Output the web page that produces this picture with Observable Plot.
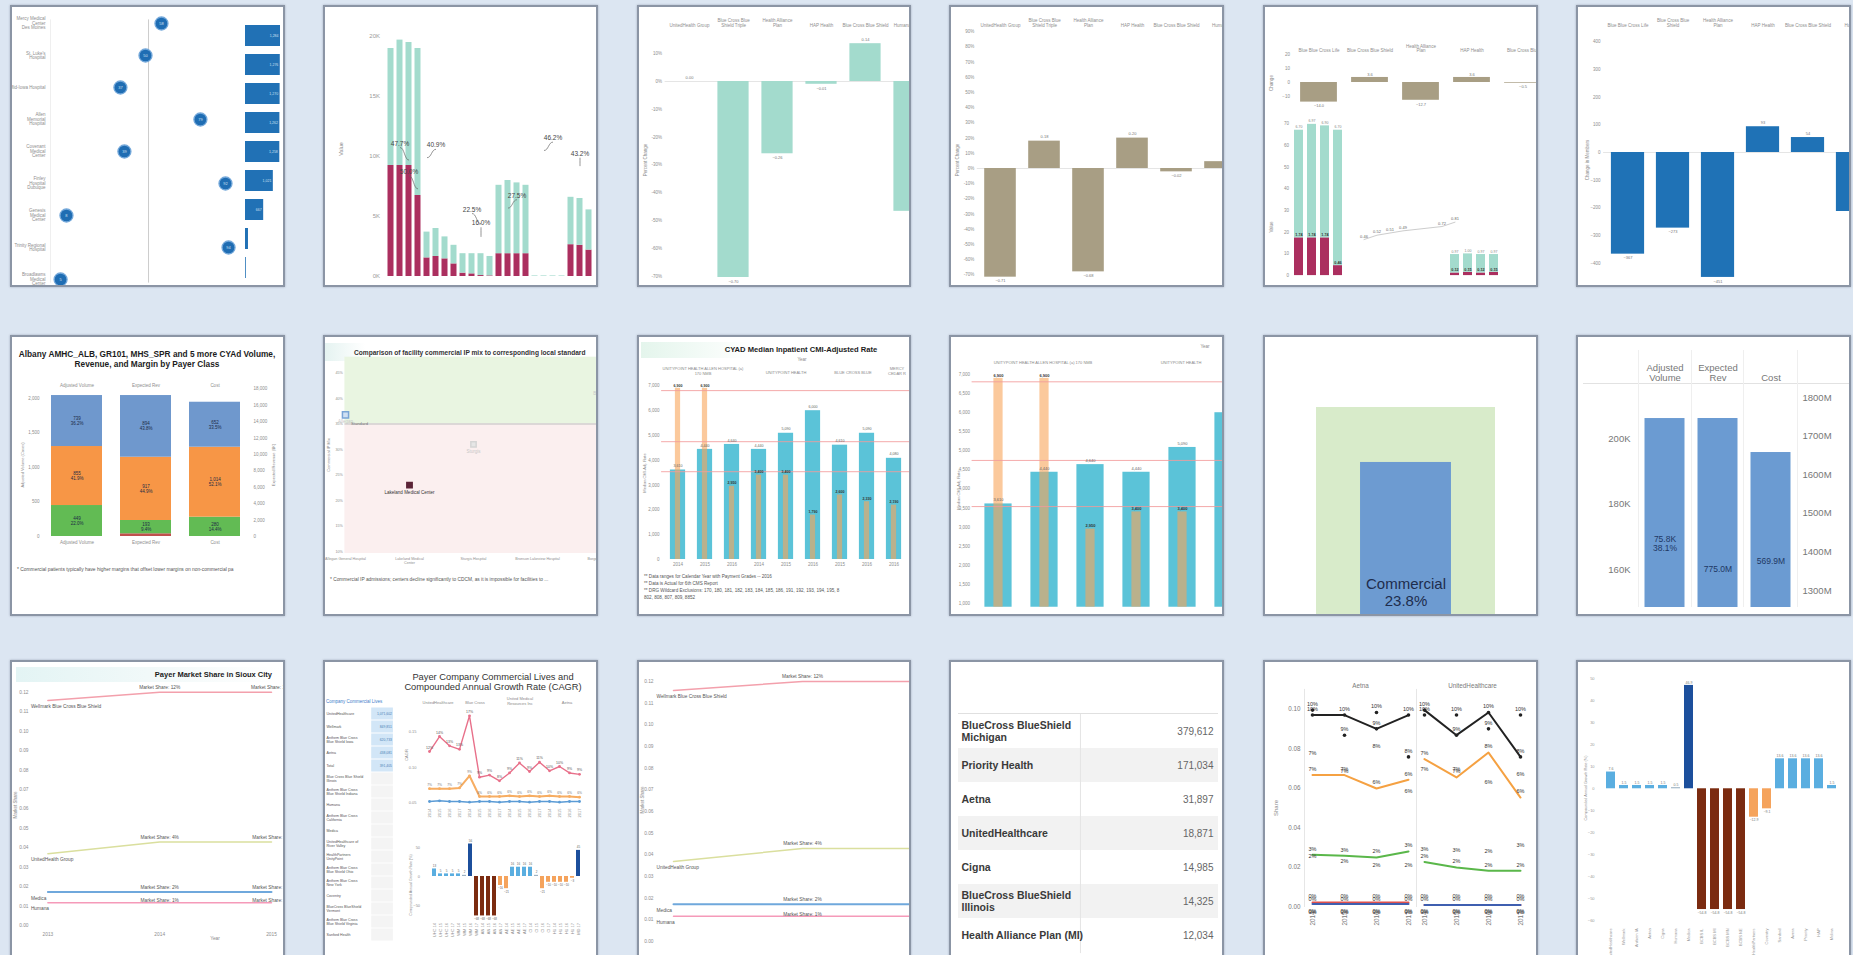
<!DOCTYPE html>
<html><head><meta charset="utf-8">
<script src="https://cdn.jsdelivr.net/npm/d3@7"></script>
<script src="https://cdn.jsdelivr.net/npm/@observablehq/plot@0.6"></script>
<style>
html,body{margin:0;padding:0}
body{width:1853px;height:955px;overflow:hidden;background:#dce6f2;font-family:"Liberation Sans",Arial,sans-serif;position:relative}
.panel{position:absolute;background:#fff;overflow:hidden;box-shadow:0 0 2px rgba(60,70,90,0.35)}
.edge{position:absolute;left:0;top:0;right:0;bottom:0;border:2px solid #8b95a5;box-sizing:border-box;pointer-events:none}
.t{position:absolute;white-space:pre;line-height:1.15}
.ln{position:absolute}
</style></head><body>
<script>
// ================= DATA =================
// Panel 1 – facility index dot plot + volume bars
const p1Hospitals = ["Mercy Medical\nCenter\nDes Moines","St. Luke's\nHospital","Mid-Iowa Hospital","Allen\nMemorial\nHospital","Covenant\nMedical\nCenter","Finley\nHospital\nDubuque","Genesis\nMedical\nCenter","Trinity Regional\nHospital","Broadlawns\nMedical\nCenter"];
const p1Index = [58.4, 50.0, 36.8, 78.9, 38.9, 92.1, 8.4, 93.7, 5.3];
const p1Benchmark = 51.6;
const p1Volume = [1284, 1276, 1270, 1262, 1258, 1021, 667, 109, 29];

// Panel 2 – stacked volume bars
const p2Groups = ["UnitedHealth","Wellmark","Aetna","Medica","Cigna","Humana"];
const p2Years = ["2014","2015","2016","2017"];
const p2Commercial = [9250,9250,9250,6750, 1550,1670,1470,1050, 280,220,80,50, 1900,1900,1900,1900, 0,0,0,0, 2650,2600,2200];
const p2Other = [9750,10450,10250,12250, 2150,2330,1830,1550, 1620,1680,1820,1620, 5700,6100,5900,5700, 50,50,50,50, 3950,3900,3350];
const p2NoteText = ["47.7%","40.9%","50.0%","22.5%","16.0%","27.5%","46.2%","43.2%"];
const p2NoteBar = [1,5,2,9,10,14,18,21];
const p2NoteValue = [10750,10600,8400,5250,4100,6400,11200,9900];
const p2NoteTarget = [2,4,3,10,10,13,17,21];
const p2NoteTargetValue = [9700,9900,7300,4400,3300,5700,10500,9200];

// Panel 3 / 4 / 6 – diverging change bars
const p3Payers = ["UnitedHealth Group","Blue Cross Blue\nShield Triple","Health Alliance\nPlan","HAP Health","Blue Cross Blue Shield","Humana Health"];
const p3Change = [0, -70.5, -26.0, -1.0, 13.6, -46.7];
const p4Payers = ["UnitedHealth Group","Blue Cross Blue\nShield Triple","Health Alliance\nPlan","HAP Health","Blue Cross Blue Shield","Humana"];
const p4Change = [-71.5, 18.0, -68.0, 20.0, -2.2, 4.5];
const p6Payers = ["Blue Blue Cross Life","Blue Cross Blue\nShield","Health Alliance\nPlan","HAP Health","Blue Cross Blue Shield","Humana"];
const p6Change = [-367, -273, -451, 93, 54, -213];

// Panel 5 – change bars + stacked bars
const p5Payers = ["Blue Blue Cross Life","Blue Cross Blue Shield","Health Alliance\nPlan","HAP Health","Blue Cross Blue"];
const p5Change = [-14.0, 3.6, -12.7, 3.6, -0.5];
const p5Commercial = [17.4,17.4,17.4,4.6, null,null,null,null,null,null,null,null, 1.2,1.5,1.2,1.5];
const p5Other = [49.6,52.3,51.6,62.4, null,null,null,null,null,null,null,null, 8.5,8.5,8.5,8.2];
const p5NoteSlot = [5,6,7,8,11,12];
const p5NoteValue = [18,20,21,22,24,26];
const p5NoteText = ["0.46","0.52","0.51","0.49","0.72","0.81"];

// Panel 7 – stacked payer class bars
const p7Measures = ["Adjusted Volume","Expected Rev","Cost"];
const p7Classes = ["Self Pay","Medicaid","Medicare","Commercial"];
const p7SelfPay = [0, 39, 0];
const p7Medicaid = [449, 193, 280];
const p7Medicare = [855, 917, 1014];
const p7CommercialVals = [739, 894, 652];

// Panel 8 – commercial IP mix vs local standard
const p8Hospitals = ["Allegan General Hospital","Lakeland Medical\nCenter","Sturgis Hospital","Bronson Lakeview Hospital","Borgess Hospital"];
const p8CommercialMix = [36.8, 23.0, 31.0, null, 42.3];
const p8PointLabels = ["Allegan", "Lakeland Medical Center", "Sturgis", "", "Borgess"];
const p8Standard = 35;

// Panel 9 / 10 – CYAD median inpatient CMI-adjusted rate
const p9Hospital = ["Allen","Allen","Allen","Unity","Unity","Unity","BCBS","BCBS","Mercy"];
const p9Year = ["2014","2015","2016","2014","2015","2016","2015","2016","2016"];
const p9Rate = [3610, 4440, 4640, 4440, 5090, 6000, 4610, 5090, 4080];
const p9Payment = [6900, 6900, 2950, 3400, 3400, 1790, 2600, 2330, 2190];
const p9RefLines = [6810, 4750, 3540];

// Panel 11 – commercial share box
const p11Segments = ["All Payers","Commercial"];
const p11Width = [100, 50.8];
const p11Height = [100, 73.7];
const p11Share = [100, 23.8];

// Panel 12 – volume / revenue / cost
const p12Measures = ["Adjusted\nVolume","Expected\nRev","Cost"];
const p12Volume = 206100;
const p12Revenue = 1745.6e6;
const p12Cost = 1657.5e6;
const p12Labels = ["75.8K\n38.1%","775.0M","569.9M"];

// Panel 13 / 15 – payer market share
const p13Years = [2013, 2014, 2015];
const p13Payers = ["Wellmark Blue Cross Blue Shield","UnitedHealth Group","Medica","Humana"];
const p13Wellmark = [0.1158, 0.1200, 0.1200];
const p13United = [0.0369, 0.0429, 0.0429];
const p13Medica = [0.0172, 0.0172, 0.0172];
const p13Humana = [0.0117, 0.0117, 0.0117];

// Panel 14 – commercial lives + CAGR
const p14Companies = ["UnitedHealthcare","Wellmark","Anthem Blue Cross\nBlue Shield Iowa","Aetna","Total","Blue Cross Blue Shield\nIllinois","Anthem Blue Cross\nBlue Shield Indiana","Humana","Anthem Blue Cross\nCalifornia","Medica","UnitedHealthcare of\nRiver Valley","HealthPartners\nUnityPoint","Anthem Blue Cross\nBlue Shield Ohio","Anthem Blue Cross\nNew York","Coventry","BlueCross BlueShield\nVermont","Anthem Blue Cross\nBlue Shield Virginia","Sanford Health"];
const p14Lives = ["1,071,602","849,851","620,733","438,081","391,405",null,null,null,null,null,null,null,null,null,null,null,null,null];
const p14Groups = ["UnitedHealthcare","Blue Cross","United Medical\nResources Inc","Aetna"];
const p14Years = ["2014","2015","2016","2017"];
const p14Commercial = [0.122,0.143,0.130,0.125, 0.172,0.086,0.089,0.081, 0.092,0.106,0.094,0.107, 0.095,0.101,0.092,0.090];
const p14Medicare = [0.070,0.070,0.070,0.071, 0.088,0.059,0.059,0.059, 0.060,0.059,0.060,0.059, 0.060,0.059,0.059,0.058];
const p14Medicaid = [0.052,0.053,0.052,0.052, 0.051,0.052,0.052,0.051, 0.052,0.052,0.051,0.052, 0.052,0.051,0.052,0.052];
const p14Cagr = [13, 4.5, 4.5, 4.5, 4.5, 2, 56, -68, -68, -68, -68, -15.5, -21, 16, 16, 16, 16, 2, -21, -10, -10, -10, -10, -3, 45];
const p14Trend = ["Growth","Growth","Growth","Growth","Growth","Flat","Strong growth","Sharp decline","Sharp decline","Sharp decline","Sharp decline","Decline","Decline","Growth","Growth","Growth","Growth","Flat","Decline","Decline","Decline","Decline","Decline","Decline","Strong growth"];
const p14BarNames = ["UHC 14","UHC 15","UHC 16","UHC 17","WM 14","WM 15","WM 16","WM 17","AN 14","AN 15","AN 16","AN 17","AE 14","AE 15","AE 16","AE 17","CI 14","CI 15","CI 16","CI 17","HU 14","HU 15","HU 16","HU 17","MD 17"];

// Panel 16 – commercial lives table
const p16Payers = ["BlueCross BlueShield\nMichigan","Priority Health","Aetna","UnitedHealthcare","Cigna","BlueCross BlueShield\nIllinois","Health Alliance Plan (MI)"];
const p16Lives = [379612, 171034, 31897, 18871, 14985, 14325, 12034];

// Panel 17 – segment share lines
const p17Payers = ["Aetna","UnitedHealthcare"];
const p17Years = ["2014","2015","2016","2017"];
const p17Segments = ["Large Group","Small Group","Individual","Medicaid","Medicare"];
const p17AetnaLarge = [0.097, 0.097, 0.090, 0.097];
const p17AetnaSmall = [0.0666, 0.0666, 0.0598, 0.0642];
const p17AetnaIndividual = [0.0262, 0.0257, 0.0248, 0.0279];
const p17AetnaMedicaid = [0.0020, 0.0020, 0.0020, 0.0020];
const p17AetnaMedicare = [0.0013, 0.0013, 0.0013, 0.0013];
const p17UhcLarge = [0.0995, 0.0868, 0.0983, 0.0758];
const p17UhcSmall = [0.0747, 0.0654, 0.0780, 0.0552];
const p17UhcIndividual = [0.0226, 0.0198, 0.0181, 0.0181];
const p17UhcMedicaid = [0.0007, 0.0007, 0.0007, 0.0007];
const p17UhcMedicare = [0.0008, 0.0008, 0.0008, 0.0008];

// Panel 18 – CAGR bars
const p18Payers = ["UnitedHealthcare","Wellmark","Anthem IA","Aetna","Cigna","Humana","Medica","BCBS IL","BCBS MI","BCBS MN","BCBS NE","HealthPartners","Coventry","Sanford","Avera","Priority","HAP","Molina"];
const p18Cagr = [7.6, 1.5, 1.5, 1.5, 1.5, 0.5, 46.9, -54.8, -54.8, -54.8, -54.8, -12.9, -9.1, 13.6, 13.6, 13.6, 13.6, 1.5];
const p18Trend = ["Growth","Growth","Growth","Growth","Growth","Flat","Strong growth","Sharp decline","Sharp decline","Sharp decline","Sharp decline","Decline","Decline","Growth","Growth","Growth","Growth","Growth"];

// ================= STYLE / LAYOUT =================
const panelCols = [10, 323, 637, 949, 1263, 1576];
const panelWidths = [275, 275, 274, 275, 275, 275];
const panelRows = [5, 335, 660];
const panelHeights = [282, 281, 300];
const FONT = "Liberation Sans, Arial, Helvetica, sans-serif";
const base = {background:"transparent", fontFamily:FONT, maxWidth:"none", overflow:"visible"};
const st = (size, color) => ({...base, fontSize:size+"px", color});
const TEAL = "#a3dbcd", CRIMSON = "#ab2f5f", TAUPE = "#a89e84", BLUE = "#1f72b6", CYAN = "#5bc3d8", ORANGE = "#f9a55a";
const trendDomain = ["Growth","Flat","Strong growth","Sharp decline","Decline"];
const trendColors = ["#5aaee0","#9db3c4","#1c4f9c","#7b2b10","#f5a35c"];

const P = [];
for (let i = 0; i < 18; i++) {
  const c = i % 6, r = Math.floor(i / 6);
  const d = document.createElement("div");
  d.className = "panel";
  Object.assign(d.style, {left:panelCols[c]+"px", top:panelRows[r]+"px", width:panelWidths[c]+"px", height:panelHeights[r]+"px"});
  document.body.appendChild(d);
  P.push(d);
}
function put(p, el, x = 0, y = 0) { el.style.position = "absolute"; el.style.left = x+"px"; el.style.top = y+"px"; p.appendChild(el); return el; }
function T(p, s, x, y, o = {}) {
  const e = document.createElement("div");
  e.className = "t"; e.textContent = s;
  const a = o.anchor || "start";
  const tx = a === "middle" ? "-50%" : a === "end" ? "-100%" : "0";
  e.style.left = x+"px"; e.style.top = y+"px";
  e.style.fontSize = (o.size || 5)+"px"; e.style.color = o.color || "#8a8a8a";
  if (o.weight) e.style.fontWeight = o.weight;
  if (o.lh) e.style.lineHeight = o.lh;
  e.style.textAlign = a === "middle" ? "center" : a === "end" ? "right" : "left";
  e.style.transform = `translate(${tx},-50%)` + (o.rotate ? ` rotate(${o.rotate}deg)` : "");
  p.appendChild(e); return e;
}
function VT(p, s, x, y, o = {}) { return T(p, s, x, y, {...o, anchor:"middle", rotate:-90}); }
function line(p, x, y, w, h, color) { const e = document.createElement("div"); e.className = "ln"; Object.assign(e.style, {left:x+"px", top:y+"px", width:w+"px", height:h+"px", background:color}); p.appendChild(e); }
function band(p, x, y, w, h, bg) { const e = document.createElement("div"); Object.assign(e.style, {position:"absolute", left:x+"px", top:y+"px", width:w+"px", height:h+"px", background:bg}); p.appendChild(e); }

// ================= PANEL 1 =================
{
  const p = P[0];
  const rows = p1Hospitals.map((h, i) => ({h, v:p1Index[i], vol:p1Volume[i]}));
  put(p, Plot.plot({
    width:232, height:282, marginLeft:40, marginRight:2, marginTop:14.4, marginBottom:4.4,
    style:st(4.5, "#8e8e8e"),
    x:{domain:[0,100], axis:null},
    y:{domain:p1Hospitals, padding:0, tickSize:0, tickPadding:5, label:null},
    marks:[
      Plot.ruleX([0], {stroke:"#efefef"}),
      Plot.ruleX([p1Benchmark], {stroke:"#cccccc"}),
      Plot.dot(rows, {x:"v", y:"h", r:6.5, fill:"#1f6db3", stroke:"#74a8da", strokeWidth:1.3}),
      Plot.text(rows, {x:"v", y:"h", text:d => d3.format(".0f")(d.v), fill:"#cfe0f2", fontSize:4})
    ]
  }));
  put(p, Plot.plot({
    width:40, height:282, marginLeft:0, marginRight:5, marginTop:14.4, marginBottom:4.4,
    style:st(4, "#888"),
    x:{domain:[0, d3.max(p1Volume)], axis:null},
    y:{domain:p1Hospitals, padding:0, axis:null},
    marks:[
      Plot.barX(rows, {x:"vol", y:"h", fill:"#2171b5", insetTop:4, insetBottom:4}),
      Plot.text(rows.filter(d => d.vol > 400), {x:"vol", y:"h", text:d => d3.format(",")(d.vol), textAnchor:"end", dx:-2, fill:"#cfe0f2", fontSize:3.5})
    ]
  }), 235, 0);
}

// ================= PANEL 2 =================
{
  const p = P[1];
  const slots = p2Groups.flatMap(g => p2Years.map(y => g+" "+y));
  const rows = [];
  p2Commercial.forEach((v, i) => rows.push({k:slots[i], s:"Commercial", v}));
  p2Other.forEach((v, i) => rows.push({k:slots[i], s:"Other", v}));
  const notes = p2NoteText.map((t, i) => ({t, k:slots[p2NoteBar[i]], v:p2NoteValue[i], k2:slots[p2NoteTarget[i]], v2:p2NoteTargetValue[i]}));
  put(p, Plot.plot({
    width:282, height:282, marginLeft:61.5, marginRight:2.1, marginTop:31, marginBottom:11,
    style:st(6, "#9a9a9a"),
    x:{domain:slots, padding:0, axis:null},
    y:{domain:[0,20000], ticks:[0,5000,10000,15000,20000], tickFormat:d => d/1000+"K", tickSize:0, tickPadding:5, label:null},
    color:{domain:["Commercial","Other"], range:[CRIMSON, TEAL]},
    marks:[
      Plot.barY(rows, {x:"k", y:"v", fill:"s", insetLeft:1.5, insetRight:1.5}),
      Plot.link(notes, {x1:"k", y1:"v", x2:"k2", y2:"v2", stroke:"#666", strokeWidth:0.7, curve:"bump-x"}),
      Plot.text(notes, {x:"k", y:"v", text:"t", fontSize:6.5, fill:"#444", dy:-4})
    ]
  }));
  VT(p, "Value", 18, 144, {size:5.5});
}

// ================= PANELS 3, 4, 6 (diverging) =================
function diverging(p, o) {
  const rows = o.cats.map((c, i) => ({c, v:o.vals[i], last:i === o.cats.length - 1}));
  const end = o.start + o.step * o.cats.length;
  const width = Math.ceil(end + 2);
  const hi = (o.zeroY - o.mt) / o.k, lo = -(o.height - o.mb - o.zeroY) / o.k;
  const inset = (o.step - o.barW) / 2;
  const shown = rows.filter(d => !d.last);
  put(p, Plot.plot({
    width, height:o.height, marginLeft:o.start, marginRight:width - end, marginTop:o.mt, marginBottom:o.mb,
    style:st(4.5, "#8e8e8e"),
    x:{domain:o.cats, padding:0, axis:"top", tickSize:0, tickPadding:1, label:null},
    y:{domain:[lo, hi], ticks:o.ticks, tickFormat:o.fmt, tickSize:0, tickPadding:3, label:null},
    marks:[
      Plot.ruleY([0], {stroke:"#e5e5e5"}),
      Plot.barY(rows, {x:"c", y:"v", fill:o.fill, insetLeft:inset, insetRight:inset}),
      Plot.text(shown.filter(d => d.v >= 0), {x:"c", y:"v", text:d => o.valFmt(d.v), dy:-4, fontSize:4, fill:"#777"}),
      Plot.text(shown.filter(d => d.v < 0), {x:"c", y:"v", text:d => o.valFmt(d.v), dy:4, fontSize:4, fill:"#777"})
    ]
  }));
}
diverging(P[2], {cats:p3Payers, vals:p3Change, fill:TEAL, start:27.6, step:44.8, barW:32, zeroY:76, k:2.78, mt:22, mb:8, height:282,
  ticks:d3.range(-70, 11, 10), fmt:d => d+"%", valFmt:d => d3.format(".2f")(d/100)});
VT(P[2], "Percent Change", 9, 155, {size:4.5});
diverging(P[3], {cats:p4Payers, vals:p4Change, fill:TAUPE, start:27.8, step:44.4, barW:32, zeroY:163, k:1.52, mt:22, mb:9, height:282,
  ticks:d3.range(-70, 91, 10), fmt:d => d+"%", valFmt:d => d3.format(".2f")(d/100)});
VT(P[3], "Percent Change", 9, 155, {size:4.5});
diverging(P[5], {cats:p6Payers, vals:p6Change, fill:BLUE, start:27.1, step:45.8, barW:34, zeroY:147, k:0.277, mt:22, mb:8, height:282,
  ticks:d3.range(-400, 401, 100), fmt:d3.format(","), valFmt:d3.format(",")});
VT(P[5], "Change in Members", 12, 155, {size:4.5});

// ================= PANEL 5 =================
{
  const p = P[4];
  const rowsTop = p5Payers.map((c, i) => ({c, v:p5Change[i]}));
  put(p, Plot.plot({
    width:288, height:100, marginLeft:29.4, marginRight:2.6, marginTop:49, marginBottom:2,
    style:st(4.5, "#8e8e8e"),
    x:{domain:p5Payers, padding:0, axis:"top", tickSize:0, tickPadding:2.5, label:null},
    y:{domain:[-15, 20], ticks:[-10,0,10,20], tickSize:0, tickPadding:3, label:null},
    marks:[
      Plot.barY(rowsTop, {x:"c", y:"v", fill:TAUPE, insetLeft:7.1, insetRight:7.1}),
      Plot.text(rowsTop.filter(d => d.v >= 0), {x:"c", y:"v", text:d => d3.format(".1f")(d.v), dy:-3, fontSize:4, fill:"#777"}),
      Plot.text(rowsTop.filter(d => d.v < 0), {x:"c", y:"v", text:d => d3.format(".1f")(d.v), dy:4, fontSize:4, fill:"#777"})
    ]
  }));
  const slots = d3.range(16).map(i => "s"+i);
  const rows = [];
  p5Commercial.forEach((v, i) => { if (v != null) rows.push({k:slots[i], s:"Commercial", v}); });
  p5Other.forEach((v, i) => { if (v != null) rows.push({k:slots[i], s:"Other", v}); });
  const tops = slots.map((k, i) => ({k, c:p5Commercial[i], t:(p5Commercial[i] ?? 0) + (p5Other[i] ?? 0)})).filter(d => d.c != null);
  const notes = p5NoteText.map((t, i) => ({t, k:slots[p5NoteSlot[i]], v:p5NoteValue[i]}));
  put(p, Plot.plot({
    width:275, height:282, marginLeft:28.5, marginRight:38.5, marginTop:113, marginBottom:8,
    style:st(4.5, "#8e8e8e"),
    x:{domain:slots, padding:0, axis:null},
    y:{domain:[-1.8, 72.4], ticks:d3.range(0, 71, 10), tickSize:0, tickPadding:3, label:null},
    color:{domain:["Commercial","Other"], range:[CRIMSON, TEAL]},
    marks:[
      Plot.barY(rows, {x:"k", y:"v", fill:"s", insetLeft:2, insetRight:2}),
      Plot.text(tops, {x:"k", y:"t", text:d => d3.format(".2f")(d.t/10), dy:-3, fontSize:3.5, fill:"#888"}),
      Plot.text(tops, {x:"k", y:"c", text:d => d3.format(".2f")(d.c/10), dy:-3, fontSize:3.8, fill:"#333", fontWeight:"bold"}),
      Plot.line(notes, {x:"k", y:"v", stroke:"#aaa", strokeWidth:0.6, dy:3}),
      Plot.text(notes, {x:"k", y:"v", text:"t", fontSize:4, fill:"#666"})
    ]
  }));
  VT(p, "Change", 9, 78, {size:4.5});
  VT(p, "Value", 9, 222, {size:4.5});
}

// ================= PANEL 7 =================
{
  const p = P[6];
  const series = [p7SelfPay, p7Medicaid, p7Medicare, p7CommercialVals];
  const rows = [];
  p7Measures.forEach((m, j) => {
    const total = d3.sum(series, s => s[j]);
    let acc = 0;
    series.forEach((s, k) => { rows.push({m, cls:p7Classes[k], v:s[j], mid:acc + s[j]/2, pct:s[j]/total}); acc += s[j]; });
  });
  put(p, Plot.plot({
    width:275, height:281, marginLeft:32, marginRight:36, marginTop:55, marginBottom:80,
    style:st(4.5, "#8e8e8e"),
    x:{domain:p7Measures, padding:0, axis:"top", tickSize:0, tickPadding:4, label:null},
    y:{domain:[0, 2116], ticks:[0,500,1000,1500,2000], tickSize:0, tickPadding:3, label:null},
    color:{domain:p7Classes, range:["#c0504d","#62bb54","#f79646","#6f98cd"]},
    marks:[
      Plot.barY(rows, {x:"m", y:"v", fill:"cls", insetLeft:9, insetRight:9}),
      Plot.text(rows.filter(d => d.v > 150), {x:"m", y:"mid", text:d => d3.format(",")(d.v)+"\n"+d3.format(".1%")(d.pct), fontSize:4.5, fill:"#1d2b45", lineHeight:1.1}),
      Plot.text(p7Measures, {x:d => d, frameAnchor:"bottom", text:d => d, dy:7, fontSize:4.5, fill:"#8e8e8e"})
    ]
  }));
  put(p, Plot.plot({
    width:275, height:281, marginLeft:32, marginRight:34, marginTop:50, marginBottom:80,
    style:st(4.5, "#8e8e8e"),
    x:{domain:p7Measures, axis:null},
    y:{domain:[0, 18415], ticks:d3.range(0, 18001, 2000), axis:"right", tickSize:0, tickPadding:2, label:null},
    marks:[]
  }));
  T(p, "Albany AMHC_ALB, GR101, MHS_SPR and 5 more CYAd Volume,\nRevenue, and Margin by Payer Class", 137, 25, {anchor:"middle", size:8.3, weight:"bold", color:"#1c1c1c", lh:1.2});
  VT(p, "Adjusted Volume (Cases)", 13, 130, {size:4});
  VT(p, "Expected Revenue ($K)", 264, 130, {size:4});
  T(p, "* Commercial patients typically have higher margins that offset lower margins on non-commercial pa", 7, 235, {size:4.9, color:"#555"});
}

// ================= PANEL 8 =================
{
  const p = P[7];
  band(p, 2, 8, 40, 18, "linear-gradient(to right,#e5f3f1,#ffffff)");
  const kinds = ["focus","main","faint","faint","faint"];
  const rows = p8Hospitals.map((h, i) => ({h, v:p8CommercialMix[i], lab:p8PointLabels[i], kind:kinds[i]})).filter(d => d.v != null);
  put(p, Plot.plot({
    width:278, height:281, marginLeft:21.4, marginRight:0, marginTop:21.7, marginBottom:63,
    style:st(3.7, "#8e8e8e"),
    x:{domain:p8Hospitals, padding:0, tickSize:0, tickPadding:4, label:null},
    y:{domain:[9.6, 48.1], ticks:d3.range(10, 46, 5), tickFormat:d => d+"%", tickSize:0, tickPadding:2, label:null},
    marks:[
      Plot.rect([0], {y1:p8Standard, y2:48.1, fill:"#e9f5e1"}),
      Plot.rect([0], {y1:9.6, y2:p8Standard, fill:"#fbefef"}),
      Plot.ruleY([p8Standard], {stroke:"#bdbdbd"}),
      Plot.dot(rows, {x:"h", y:"v", symbol:"square", r:d => d.kind === "focus" ? 4 : 3, fill:d => d.kind === "focus" ? "#cfe0f3" : d.kind === "main" ? "#5b2437" : "#e6e6e6", stroke:d => d.kind === "focus" ? "#7aa5d6" : d.kind === "main" ? "#5b2437" : "#d5d5d5"}),
      Plot.text(rows, {x:"h", y:"v", text:"lab", dy:7, fontSize:4.5, fill:d => d.kind === "main" ? "#333" : "#c8c8c8"}),
      Plot.text(["Local Standard Rate"], {x:p8Hospitals[3], y:46, text:d => d, fontSize:4.5, fill:"#d0d0d0"})
    ]
  }));
  T(p, "Comparison of facility commercial IP mix to corresponding local standard", 31, 18, {size:6.6, color:"#333", weight:"600"});
  T(p, "Standard", 28, 89, {size:4.2, color:"#777"});
  VT(p, "Commercial IP Mix", 6, 120, {size:4});
  T(p, "* Commercial IP admissions; centers decline significantly to CDCM, as it is impossible for facilities to ...", 7, 245, {size:4.8, color:"#555"});
}

// ================= PANELS 9 / 10 =================
function cyad(p, o) {
  const keys = p9Hospital.map((h, i) => h+"|"+p9Year[i]);
  const rows = keys.map((k, i) => ({k, v:p9Rate[i], pay:p9Payment[i]}));
  const end = o.start + o.step * keys.length;
  const width = Math.ceil(end + 2);
  const vis = rows.filter((d, i) => o.start + o.step * (i + 0.5) < 262);
  put(p, Plot.plot({
    width, height:281, marginLeft:o.start, marginRight:width - end, marginTop:o.mt, marginBottom:o.mb,
    style:st(4.5, "#8e8e8e"),
    x:{domain:keys, padding:0, axis:o.xAxis ? "bottom" : null, tickFormat:k => k.split("|")[1], tickSize:0, tickPadding:3, label:null},
    y:{domain:o.domain, ticks:o.ticks, tickFormat:d3.format(","), tickSize:0, tickPadding:o.tp, label:null},
    marks:[
      Plot.barY(rows, {x:"k", y:"v", fill:CYAN, insetLeft:o.cInset, insetRight:o.cInset, clip:true}),
      Plot.barY(rows, {x:"k", y:"pay", fill:ORANGE, fillOpacity:0.6, insetLeft:o.oInset, insetRight:o.oInset, clip:true}),
      Plot.ruleY(p9RefLines, {stroke:"#f29b9b", strokeWidth:1, strokeOpacity:0.85}),
      Plot.text(vis, {x:"k", y:"v", text:d => d3.format(",")(d.v), dy:-4, fontSize:o.fs, fill:"#666"}),
      Plot.text(vis, {x:"k", y:"pay", text:d => d3.format(",")(d.pay), dy:-3, fontSize:o.fs, fill:"#333", fontWeight:"bold"})
    ]
  }));
}
band(P[8], 4, 7, 110, 16, "linear-gradient(to right,#e4f5ec,#ffffff)");
cyad(P[8], {start:24.1, step:27.75, cInset:5.9, oInset:10.9, mt:44, mb:57, domain:[0, 7258], ticks:d3.range(0, 7001, 1000), tp:2, xAxis:true, fs:3.6});
{
  const p = P[8];
  T(p, "CYAD Median Inpatient CMI-Adjusted Rate", 164, 15, {anchor:"middle", size:7.6, weight:"bold", color:"#1c1c1c"});
  T(p, "Year", 165, 25, {anchor:"middle", size:4.5});
  T(p, "UNITYPOINT HEALTH ALLEN HOSPITAL (a)\n170 NMB", 66, 37, {anchor:"middle", size:4});
  T(p, "UNITYPOINT HEALTH", 149, 38, {anchor:"middle", size:4});
  T(p, "BLUE CROSS BLUE", 216, 38, {anchor:"middle", size:4});
  T(p, "MERCY\nCEDAR R", 260, 37, {anchor:"middle", size:4});
  VT(p, "Median CMI-Adj. Rate", 8, 138, {size:4});
  T(p, "** Data ranges for Calendar Year with Payment Grades -- 2016", 7, 242, {size:4.6, color:"#555"});
  T(p, "** Data is Actual for 6th CMS Report", 7, 249, {size:4.6, color:"#555"});
  T(p, "** DRG Wildcard Exclusions: 170, 180, 181, 182, 183, 184, 185, 186, 191, 192, 193, 194, 195, 8", 7, 256, {size:4.6, color:"#555"});
  T(p, "802, 808, 807, 809, 8852", 7, 263, {size:4.6, color:"#555"});
}
cyad(P[9], {start:22.6, step:46.8, cInset:9.4, oInset:18.4, mt:20, mb:9.3, domain:[903, 7500], ticks:d3.range(1000, 7001, 500), tp:2, xAxis:false, fs:4});
{
  const p = P[9];
  T(p, "Year", 256, 12, {anchor:"middle", size:4.5});
  T(p, "UNITYPOINT HEALTH ALLEN HOSPITAL (a) 170 NMB", 94, 28, {anchor:"middle", size:4});
  T(p, "UNITYPOINT HEALTH", 232, 28, {anchor:"middle", size:4});
  VT(p, "Median CMI-Adj. Rate", 10, 155, {size:4});
}

// ================= PANEL 11 =================
{
  const p = P[10];
  const rows = p11Segments.map((s, i) => ({s, x1:(100 - p11Width[i]) / 2, x2:(100 + p11Width[i]) / 2, y2:p11Height[i], share:p11Share[i]}));
  put(p, Plot.plot({
    width:275, height:281, marginLeft:53, marginRight:43, marginTop:72, marginBottom:0,
    style:st(5, "#888"),
    x:{domain:[0,100], axis:null}, y:{domain:[0,100], axis:null},
    color:{domain:p11Segments, range:["#d8ebca","#6d9bd1"]},
    marks:[
      Plot.rect(rows, {x1:"x1", x2:"x2", y1:0, y2:"y2", fill:"s"}),
      Plot.text(rows.filter(d => d.s === "Commercial"), {x:50, y:11.7, text:d => d.s+"\n"+d.share+"%", fontSize:15, fill:"#1e2d4d", lineHeight:1.13})
    ]
  }));
}

// ================= PANEL 12 =================
{
  const p = P[11];
  line(p, 7, 48, 268, 1, "#e2e2e2");
  [62, 115, 167, 221].forEach(x => line(p, x, 15, 1, 257, "#efefef"));
  const lo = 148400, hi = 216800, loM = 1256e6, hiM = 1836.3e6;
  put(p, Plot.plot({
    width:275, height:281, marginLeft:61.5, marginRight:54.5, marginTop:48, marginBottom:9,
    style:st(9.5, "#777"),
    x:{domain:p12Measures, padding:0, axis:"top", tickSize:0, tickPadding:3, label:null},
    y:{domain:[lo, hi], ticks:[160000,180000,200000], tickFormat:d => d/1000+"K", tickSize:0, tickPadding:7.5, label:null},
    marks:[
      Plot.barY([{c:p12Measures[0], v:p12Volume}], {x:"c", y:"v", fill:"#6b9bd2", insetLeft:6.5, insetRight:6.5, clip:true}),
      Plot.text([{c:p12Measures[0], y:lo + 0.34*(p12Volume - lo), t:p12Labels[0]}], {x:"c", y:"y", text:"t", fontSize:8.5, fill:"#1f3864", lineHeight:1.15})
    ]
  }));
  const rows = [{c:p12Measures[1], v:p12Revenue, f:0.20, t:p12Labels[1]}, {c:p12Measures[2], v:p12Cost, f:0.30, t:p12Labels[2]}];
  put(p, Plot.plot({
    width:275, height:281, marginLeft:61.5, marginRight:54.5, marginTop:48, marginBottom:9,
    style:st(9.5, "#777"),
    x:{domain:p12Measures, padding:0, axis:null},
    y:{domain:[loM, hiM], ticks:d3.range(1300e6, 1800e6 + 1, 100e6), tickFormat:d => d/1e6+"M", axis:"right", tickSize:0, tickPadding:5.5, label:null},
    marks:[
      Plot.barY(rows, {x:"c", y:"v", fill:"#6b9bd2", insetLeft:6.5, insetRight:6.5, clip:true}),
      Plot.text(rows, {x:"c", y:d => loM + d.f*(d.v - loM), text:"t", fontSize:8.5, fill:"#1f3864"})
    ]
  }));
}

// ================= PANELS 13 / 15 =================
const shareColors = ["#f3a0ac","#dadf9e","#6fa8dc","#f59ab9"];
function sharePanel(p, o) {
  const series = [p13Wellmark, p13United, p13Medica, p13Humana];
  const rows = series.flatMap((vals, i) => p13Years.map((yr, j) => ({s:p13Payers[i], yr, v:vals[j], i})));
  const mid = rows.filter(d => d.yr !== 2013);
  put(p, Plot.plot({
    width:o.width, height:300, marginLeft:o.ml, marginRight:o.mr, marginTop:o.mt, marginBottom:o.mb,
    style:st(4.8, "#8e8e8e"),
    x:{domain:[2013, 2015], insetLeft:o.inset, ticks:[2013, 2014, 2015], tickFormat:"d", tickSize:0, tickPadding:7, label:null, axis:o.xAxis ? "bottom" : null},
    y:{domain:[0, o.hi], ticks:d3.range(0, 0.1201, 0.01), tickFormat:".2f", tickSize:0, tickPadding:4, label:null},
    color:{domain:p13Payers, range:shareColors},
    marks:[
      Plot.line(rows, {x:"yr", y:"v", z:"s", stroke:"s", strokeWidth:d => d.i === 2 ? 2 : 1.5}),
      Plot.text(rows.filter(d => d.yr === 2013), {x:"yr", y:"v", text:"s", textAnchor:"start", dx:-17, dy:6, fontSize:4.8, fill:"#555"}),
      Plot.text(mid.filter(d => d.i < 3), {x:"yr", y:"v", text:d => "Market Share: "+d3.format(".0%")(d.v), dy:-5, fontSize:4.8, fill:"#555"}),
      Plot.text(mid.filter(d => d.i === 3), {x:"yr", y:"v", text:d => "Market Share: "+d3.format(".0%")(d.v), dy:-2, fontSize:4.8, fill:"#555"})
    ]
  }));
}
{
  const p = P[12];
  band(p, 6, 7, 264, 15, "linear-gradient(to right,#e3f4f4,#f7fbfb 70%,#ffffff)");
  sharePanel(p, {width:275, ml:22, mr:14, mt:25, mb:35, inset:15.4, hi:0.12346, xAxis:true});
  T(p, "Payer Market Share in Sioux City", 262, 15, {anchor:"end", size:7.5, weight:"bold", color:"#1c1c1c"});
  T(p, "Year", 205, 279, {anchor:"middle", size:4.8});
  VT(p, "Market Share", 6, 145, {size:4.5});
}
{
  const p = P[14];
  sharePanel(p, {width:300, ml:20, mr:6, mt:15, mb:19, inset:16, hi:0.12275, xAxis:false});
  VT(p, "Market Share", 6, 140, {size:4.5});
}

// ================= PANEL 14 =================
{
  const p = P[13];
  const trows = p14Companies.map((n, i) => ({n, v:p14Lives[i]}));
  put(p, Plot.plot({
    width:74, height:300, marginLeft:2, marginRight:2, marginTop:46, marginBottom:18,
    style:st(4, "#666"),
    x:{domain:[0,1], axis:null}, y:{domain:p14Companies, padding:0, axis:null},
    marks:[
      Plot.barX(trows, {y:"n", x1:0.66, x2:0.97, fill:d => d.v ? "#d2e6f7" : "#f4f4f4", insetTop:0.5, insetBottom:0.5}),
      Plot.text(trows, {y:"n", frameAnchor:"left", text:"n", textAnchor:"start", dx:1, fontSize:3.6, fill:"#555", lineHeight:1}),
      Plot.text(trows.filter(d => d.v), {y:"n", x:0.95, text:"v", textAnchor:"end", fontSize:3.4, fill:"#4a7fb5"})
    ]
  }));
  T(p, "Company Commercial Lives", 3, 42, {size:4.5, color:"#3d7cc9"});
  const keys = p14Groups.flatMap(g => p14Years.map(y => g+"|"+y));
  const lrows = [];
  [["Commercial", p14Commercial], ["Medicare", p14Medicare], ["Medicaid", p14Medicaid]].forEach(([s, arr]) => arr.forEach((v, i) => lrows.push({k:keys[i], s, v})));
  put(p, Plot.plot({
    width:275, height:160, marginLeft:102, marginRight:15, marginTop:49.6, marginBottom:14,
    style:st(4, "#8e8e8e"),
    x:{domain:keys, type:"point", padding:0, tickFormat:k => k.split("|")[1], tickRotate:-90, tickSize:0, tickPadding:2, label:null},
    y:{domain:[0.045, 0.18], ticks:[0.05, 0.10, 0.15], tickFormat:".2f", tickSize:0, tickPadding:9, label:null},
    color:{domain:["Commercial","Medicare","Medicaid"], range:["#e8708a","#f7ad62","#5b9bd5"]},
    marks:[
      Plot.line(lrows, {x:"k", y:"v", z:"s", stroke:"s", strokeWidth:d => d.s === "Medicare" ? 2 : 1.4}),
      Plot.dot(lrows, {x:"k", y:"v", fill:"s", r:1.4}),
      Plot.text(lrows.filter(d => d.s === "Commercial"), {x:"k", y:"v", text:d => d3.format(".0%")(d.v), dy:-4, fontSize:3.5, fill:"#555"}),
      Plot.text(lrows.filter(d => d.s === "Medicare"), {x:"k", y:"v", text:d => d3.format(".0%")(d.v), dy:-4, fontSize:3.3, fill:"#777"})
    ]
  }));
  const brows = p14BarNames.map((n, i) => ({n, v:p14Cagr[i], g:p14Trend[i]}));
  put(p, Plot.plot({
    width:275, height:300, marginLeft:98.6, marginRight:7.3, marginTop:172.5, marginBottom:40.5,
    style:st(4, "#8e8e8e"),
    x:{domain:p14BarNames, padding:0, tickRotate:-90, tickSize:0, tickPadding:3, label:null},
    y:{domain:[-75, 75], ticks:[-50, 0, 50], tickSize:0, tickPadding:2, label:null},
    color:{domain:trendDomain, range:trendColors},
    marks:[
      Plot.barY(brows, {x:"n", y:"v", fill:"g", insetLeft:1, insetRight:1}),
      Plot.text(brows.filter(d => d.v >= 0), {x:"n", y:"v", text:d => d3.format(".0f")(d.v), dy:-3, fontSize:3, fill:"#666"}),
      Plot.text(brows.filter(d => d.v < 0), {x:"n", y:"v", text:d => d3.format(".0f")(d.v), dy:3, fontSize:3, fill:"#666"})
    ]
  }));
  T(p, "Payer Company Commercial Lives and\nCompounded Annual Growth Rate (CAGR)", 170, 22, {anchor:"middle", size:9.3, color:"#333", lh:1.12});
  T(p, p14Groups[0], 115, 43, {anchor:"middle", size:4});
  T(p, p14Groups[1], 152, 43, {anchor:"middle", size:4});
  T(p, p14Groups[2], 197, 42, {anchor:"middle", size:4});
  T(p, p14Groups[3], 244, 43, {anchor:"middle", size:4});
  VT(p, "CAGR", 84, 95, {size:4});
  VT(p, "Compounded Annual Growth Rate (%)", 88, 225, {size:3.6});
}

// ================= PANEL 16 =================
{
  const p = P[15];
  const rows = p16Payers.map((n, i) => ({n, v:p16Lives[i], i}));
  put(p, Plot.plot({
    width:275, height:300, marginLeft:9, marginRight:6, marginTop:53, marginBottom:6.9,
    style:st(10, "#555"),
    x:{domain:[0,1], axis:null}, y:{domain:p16Payers, padding:0, axis:null},
    marks:[
      Plot.barX(rows.filter(d => d.i % 2 === 1), {y:"n", x1:0, x2:1, fill:"#f2f2f2"}),
      Plot.ruleX([0.469], {stroke:"#e4e4e4"}),
      Plot.text(rows, {y:"n", frameAnchor:"left", text:"n", textAnchor:"start", dx:3, fontSize:10.5, fontWeight:600, fill:"#3a3a3a", lineHeight:1.1}),
      Plot.text(rows, {y:"n", frameAnchor:"right", text:d => d3.format(",")(d.v), textAnchor:"end", dx:-5, fontSize:10, fill:"#666"})
    ]
  }));
  line(p, 9, 53, 260, 1, "#e0e0e0");
}

// ================= PANEL 17 =================
{
  const p = P[16];
  const table = {
    "Aetna":[p17AetnaLarge, p17AetnaSmall, p17AetnaIndividual, p17AetnaMedicaid, p17AetnaMedicare],
    "UnitedHealthcare":[p17UhcLarge, p17UhcSmall, p17UhcIndividual, p17UhcMedicaid, p17UhcMedicare]
  };
  const rows = [];
  p17Payers.forEach(payer => p17Segments.forEach((seg, k) => p17Years.forEach((yr, j) => rows.push({payer, seg, yr, v:table[payer][k][j]}))));
  put(p, Plot.plot({
    width:275, height:300, marginLeft:41, marginRight:10, marginTop:28.9, marginBottom:54,
    style:st(6.3, "#7a7a7a"),
    facet:{data:rows, x:"payer"},
    fx:{domain:p17Payers, padding:0, axis:"top", tickSize:0, tickPadding:1, label:null},
    x:{domain:p17Years, type:"point", padding:0.2, tickRotate:-90, tickSize:0, tickPadding:5, label:null},
    y:{domain:[0, 0.11], ticks:d3.range(0, 0.101, 0.02), tickFormat:".2f", tickSize:0, tickPadding:4, label:null},
    color:{domain:p17Segments, range:["#222222","#f5a142","#5ab74a","#e0504d","#3f5fb0"]},
    marks:[
      Plot.frame({anchor:"left", stroke:"#e6e6e6"}),
      Plot.line(rows, {x:"yr", y:"v", z:"seg", stroke:"seg", strokeWidth:2}),
      Plot.dot(rows.filter(d => d.seg === "Large Group"), {x:"yr", y:"v", fill:"#222", r:1.8}),
      Plot.text(rows.filter(d => d.seg !== "Medicare"), {x:"yr", y:"v", text:d => d3.format(".0%")(d.v), dy:-6, fontSize:5.5, fill:"#333"}),
      Plot.text(rows.filter(d => d.seg === "Medicare"), {x:"yr", y:"v", text:d => d3.format(".0%")(d.v), dy:7, fontSize:5.5, fill:"#333"})
    ]
  }));
  VT(p, "Share", 13, 148, {size:6});
}

// ================= PANEL 18 =================
{
  const p = P[17];
  const rows = p18Payers.map((c, i) => ({c, v:p18Cagr[i], g:p18Trend[i]}));
  put(p, Plot.plot({
    width:275, height:300, marginLeft:21.1, marginRight:5.5, marginTop:13.7, marginBottom:35.1,
    style:st(4, "#999"),
    x:{domain:p18Payers, padding:0, tickRotate:-90, tickSize:0, tickPadding:3, label:null},
    y:{domain:[-62, 52], ticks:d3.range(-60, 51, 10), tickSize:0, tickPadding:3, label:null},
    color:{domain:trendDomain, range:trendColors},
    marks:[
      Plot.barY(rows, {x:"c", y:"v", fill:"g", insetLeft:2, insetRight:2}),
      Plot.text(rows.filter(d => d.v >= 0), {x:"c", y:"v", text:d => d3.format(".1f")(d.v), dy:-3, fontSize:3.5, fill:"#777"}),
      Plot.text(rows.filter(d => d.v < 0), {x:"c", y:"v", text:d => d3.format(".1f")(d.v), dy:3, fontSize:3.5, fill:"#777"})
    ]
  }));
  VT(p, "Compounded Annual Growth Rate (%)", 10, 128, {size:3.8});
}

// borders on top
P.forEach(p => { const e = document.createElement("div"); e.className = "edge"; p.appendChild(e); });
</script>
</body></html>
